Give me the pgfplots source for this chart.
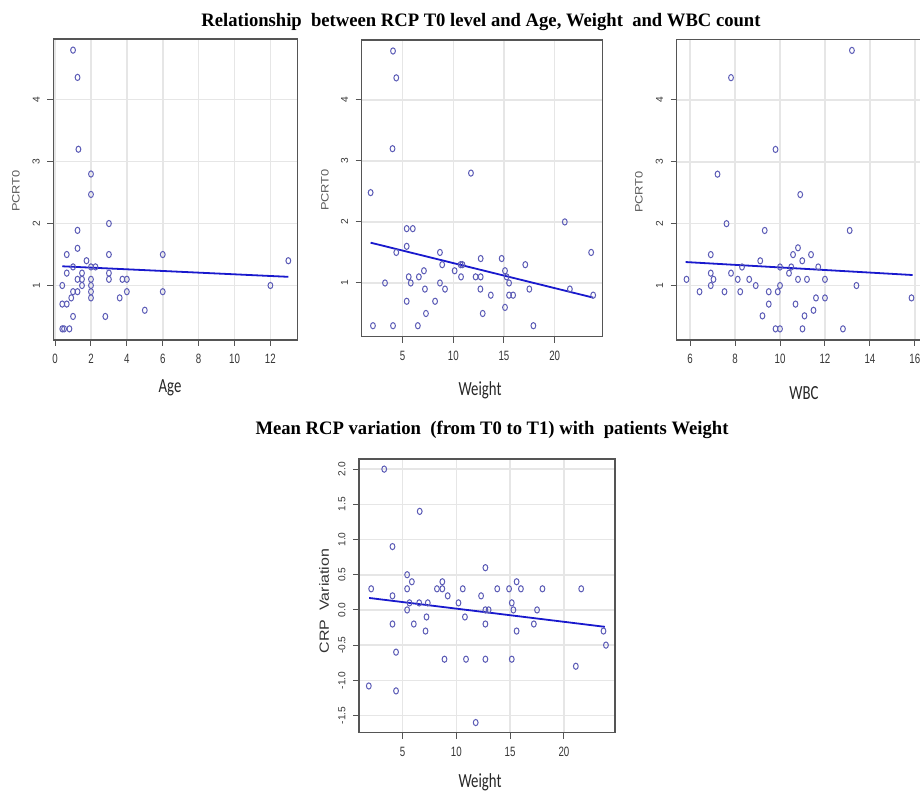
\documentclass[border=0pt]{standalone}
\usepackage{pgfplots}
\pgfplotsset{compat=1.18}
\usepackage{fontspec}
\setmainfont{Liberation Sans}
\newfontfamily\titlefont[FakeStretch=0.98]{Liberation Serif}
\newfontfamily\xtickfont[FakeStretch=0.72]{Liberation Sans}
\newfontfamily\labelfont[FakeStretch=0.74]{Carlito}
\newfontfamily\ylabfont[FakeStretch=1.2]{Liberation Sans}

\definecolor{ptcol}{RGB}{92,92,182}
\definecolor{regcol}{RGB}{25,25,205}
\definecolor{boxcol}{RGB}{85,85,85}
\definecolor{gridcol}{RGB}{230,230,230}
\definecolor{tickcol}{RGB}{55,55,55}

\pgfplotsset{
  rplot/.style={
    scale only axis, anchor=south west,
    axis line style={boxcol, line width=1.2pt},
    grid=major, major grid style={gridcol, line width=1.6pt},
    tick align=outside, tick pos=left,
    major tick length=6pt,
    every tick/.style={boxcol, line width=1pt},
    /pgf/number format/assume math mode=true,
    xticklabel style={font=\xtickfont\fontsize{13.5}{14}\selectfont, text=tickcol},
    yticklabel style={font=\fontsize{10.2}{11}\selectfont, text=tickcol, rotate=90, anchor=south},
    xticklabel shift=5pt, yticklabel shift=4pt,
  },
  pts/.style={only marks, mark=o, mark size=2.4pt, color=ptcol,
    mark options={yscale=1.3, line width=1pt}},
  reg/.style={color=regcol, line width=1.8pt, no marks},
}

\begin{document}
\begin{tikzpicture}[x=1pt,y=1pt]
\useasboundingbox (0,0) rectangle (920,792);

% --- Age ---
\begin{axis}[rplot, at={(53.3pt,452pt)}, width=244pt, height=301pt,
  xmin=-0.1, xmax=13.5, ymin=0.12, ymax=4.98,
  xtick={0,2,4,6,8,10,12}, ytick={1,2,3,4}]
\addplot[pts] table {
x y
1.0 4.8
1.25 4.36
1.3 3.2
2.0 2.8
2.0 2.47
3.0 2.0
1.25 1.89
1.25 1.6
0.65 1.5
3.0 1.5
6.0 1.5
13.0 1.4
1.75 1.4
1.0 1.3
2.0 1.3
2.25 1.3
0.65 1.2
1.5 1.2
3.0 1.2
1.25 1.1
1.5 1.1
2.0 1.1
3.0 1.1
3.75 1.1
4.0 1.1
0.4 1.0
1.5 1.0
2.0 1.0
12.0 1.0
1.0 0.9
1.25 0.9
2.0 0.9
4.0 0.9
6.0 0.9
0.9 0.8
2.0 0.8
3.6 0.8
0.4 0.7
0.65 0.7
1.0 0.5
2.8 0.5
5.0 0.6
0.4 0.3
0.5 0.3
0.8 0.3
};
\addplot[reg] coordinates {(0.4,1.31) (13,1.14)};
\end{axis}

% --- Weight ---
\begin{axis}[rplot, at={(361.7pt,455.3pt)}, width=241pt, height=296.7pt,
  xmin=0.96, xmax=24.74, ymin=0.12, ymax=4.98,
  xtick={5,10,15,20}, ytick={1,2,3,4}]
\addplot[pts] table {
x y
4.05 4.8
4.37 4.36
4.0 3.2
11.74 2.8
1.84 2.48
21.0 2.0
5.4 1.89
6.0 1.89
5.4 1.6
4.37 1.5
8.68 1.5
23.6 1.5
12.7 1.4
14.77 1.4
8.9 1.3
10.72 1.3
10.9 1.3
17.1 1.3
7.1 1.2
10.13 1.2
15.1 1.2
5.6 1.1
6.6 1.1
10.76 1.1
12.2 1.1
12.7 1.1
15.26 1.1
3.26 1.0
5.8 1.0
8.68 1.0
15.5 1.0
7.2 0.9
9.18 0.9
12.67 0.9
17.5 0.9
21.5 0.9
13.7 0.8
15.5 0.8
15.9 0.8
23.8 0.8
5.4 0.7
8.2 0.7
7.3 0.5
12.9 0.5
15.1 0.6
2.07 0.3
4.05 0.3
6.5 0.3
17.9 0.3
};
\addplot[reg] coordinates {(1.84,1.66) (23.8,0.76)};
\end{axis}

% --- WBC ---
\begin{axis}[rplot, at={(676.6pt,452pt)}, width=245pt, height=300.7pt,
  xmin=5.4, xmax=16.3, ymin=0.12, ymax=4.98,
  xtick={6,8,10,12,14,16}, ytick={1,2,3,4}]
\addplot[pts] table {
x y
13.2 4.8
7.82 4.36
9.8 3.2
7.22 2.8
10.9 2.47
7.62 2.0
9.32 1.89
13.1 1.89
10.8 1.61
6.92 1.5
10.58 1.5
11.38 1.5
9.12 1.4
10.99 1.4
8.31 1.3
10.0 1.3
10.5 1.3
11.7 1.3
6.92 1.2
7.82 1.2
10.4 1.2
5.84 1.1
7.04 1.1
8.12 1.1
8.63 1.1
10.8 1.1
11.2 1.1
12.0 1.1
6.92 1.0
8.92 1.0
10.0 1.0
13.4 1.0
6.42 0.9
7.53 0.9
8.23 0.9
9.5 0.9
9.9 0.9
11.6 0.8
12.0 0.8
15.85 0.8
9.5 0.7
10.69 0.7
11.49 0.6
9.22 0.51
11.09 0.51
9.8 0.3
10.0 0.3
11.0 0.3
12.8 0.3
};
\addplot[reg] coordinates {(5.8,1.38) (15.9,1.17)};
\end{axis}

% --- CRP variation vs Weight ---
\begin{axis}[rplot, at={(359pt,59.3pt)}, width=256pt, height=273.7pt,
  xmin=0.96, xmax=24.74, ymin=-1.744, ymax=2.144,
  xtick={5,10,15,20},
  ytick={-1.5,-1,-0.5,0,0.5,1,1.5,2},
  yticklabels={-1.5,-1.0,-0.5,0.0,0.5,1.0,1.5,2.0}]
\addplot[pts] table {
x y
3.3 2.0
6.6 1.4
4.07 0.9
12.7 0.6
5.43 0.5
5.87 0.4
8.7 0.4
15.6 0.4
2.09 0.3
5.43 0.3
8.2 0.3
8.7 0.3
10.6 0.3
13.8 0.3
14.9 0.3
16.0 0.3
18.0 0.3
21.6 0.3
4.07 0.2
9.2 0.2
12.3 0.2
5.65 0.1
6.55 0.1
7.35 0.1
10.2 0.1
15.15 0.1
5.43 0.0
12.7 0.0
13.0 0.0
15.3 0.0
17.5 0.0
7.23 -0.1
10.8 -0.1
4.07 -0.2
6.05 -0.2
12.7 -0.2
17.2 -0.2
7.14 -0.3
15.6 -0.3
23.67 -0.3
23.9 -0.5
4.4 -0.6
8.9 -0.7
10.9 -0.7
12.7 -0.7
15.15 -0.7
21.1 -0.8
1.87 -1.08
4.4 -1.15
11.8 -1.6
};
\addplot[reg] coordinates {(1.9,0.17) (23.8,-0.24)};
\end{axis}

% titles and axis labels
\node[font=\titlefont\bfseries\fontsize{19}{20}\selectfont] at (481,770)
  {Relationship\ \ between RCP T0 level and Age, Weight\ \ and WBC count};
\node[font=\titlefont\bfseries\fontsize{19}{20}\selectfont] at (492,362)
  {Mean RCP variation\ \ (from T0 to T1) with\ \ patients Weight};

\node[font=\labelfont\fontsize{20}{22}\selectfont, text=black!85] at (170,404) {Age};
\node[font=\labelfont\fontsize{20}{22}\selectfont, text=black!85] at (480,402) {Weight};
\node[font=\labelfont\fontsize{20}{22}\selectfont, text=black!85] at (804,399) {WBC};
\node[font=\labelfont\fontsize{20}{22}\selectfont, text=black!85] at (480,10) {Weight};

\node[rotate=90, font=\ylabfont\fontsize{10.7}{12}\selectfont, text=black!65] at (16,601) {PCRT0};
\node[rotate=90, font=\ylabfont\fontsize{10.7}{12}\selectfont, text=black!65] at (325,602) {PCRT0};
\node[rotate=90, font=\ylabfont\fontsize{10.7}{12}\selectfont, text=black!65] at (639,600) {PCRT0};
\node[rotate=90, font=\ylabfont\fontsize{13.3}{15}\selectfont, text=black!80] at (324,191) {CRP\ \ Variation};
\end{tikzpicture}
\end{document}
